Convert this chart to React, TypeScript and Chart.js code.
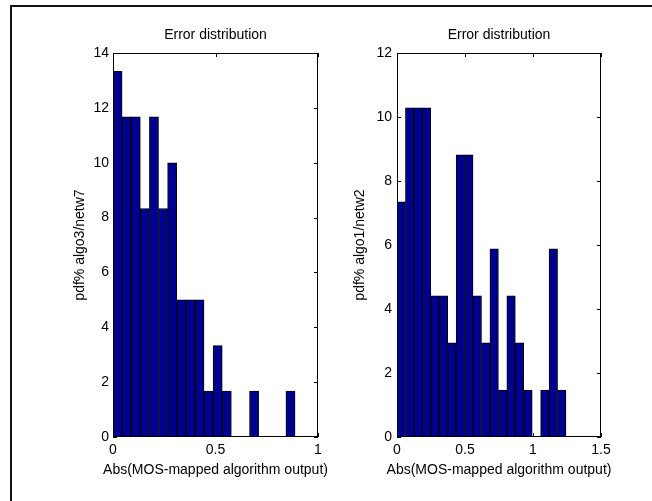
import React, { useEffect, useRef } from "react";
import { Chart, registerables } from "chart.js";

Chart.register(...registerables);

// ---------- data ----------
const plotTitle = "Error distribution";
const xAxisTitle = "Abs(MOS-mapped algorithm output)";

const leftYLabel = "pdf% algo3/netw7";
const leftBinCenters = [
  0.0222, 0.0666, 0.111, 0.1554, 0.1998, 0.2442, 0.2886, 0.333, 0.3774, 0.4218,
  0.4662, 0.5106, 0.555, 0.5994, 0.6438, 0.6882, 0.7326, 0.777, 0.8214, 0.8658,
];
const leftPdf = [
  13.33, 11.67, 11.67, 8.33, 11.67, 8.33, 10.0, 5.0, 5.0, 5.0,
  1.67, 3.33, 1.67, 0, 0, 1.67, 0, 0, 0, 1.67,
];
const leftXRange = [0, 1];
const leftYRange = [0, 14];

const rightYLabel = "pdf% algo1/netw2";
const rightBinCenters = [
  0.0311, 0.0932, 0.1553, 0.2175, 0.2796, 0.3417, 0.4039, 0.466, 0.5281, 0.5903,
  0.6524, 0.7145, 0.7767, 0.8388, 0.9009, 0.9631, 1.0252, 1.0873, 1.1495, 1.2116,
];
const rightPdf = [
  7.35, 10.29, 10.29, 10.29, 4.41, 4.41, 2.94, 8.82, 8.82, 4.41,
  2.94, 5.88, 1.47, 4.41, 2.94, 1.47, 0, 1.47, 5.88, 1.47,
];
const rightXRange = [0, 1.5];
const rightYRange = [0, 12];

const tickStepX = 0.5;
const tickStepY = 2;

// ---------- style ----------
const FONT_FAMILY = "'Liberation Sans', Arial, Helvetica, sans-serif";
const BAR_FILL = "#00008F";

const matlabAxes = {
  id: "matlabAxes",
  beforeDatasetsDraw(chart: any) {
    const { ctx, chartArea: a, scales } = chart;
    const x = scales.x;
    const y = scales.y;
    const tl = 4;
    ctx.save();
    ctx.strokeStyle = "#000";
    ctx.lineWidth = 1;
    ctx.beginPath();
    x.ticks.forEach((_t: any, i: number) => {
      const px = Math.round(x.getPixelForTick(i)) + 0.5;
      ctx.moveTo(px, a.bottom);
      ctx.lineTo(px, a.bottom - tl);
      ctx.moveTo(px, a.top);
      ctx.lineTo(px, a.top + tl);
    });
    y.ticks.forEach((_t: any, i: number) => {
      const py = Math.round(y.getPixelForTick(i)) + 0.5;
      ctx.moveTo(a.left, py);
      ctx.lineTo(a.left + tl, py);
      ctx.moveTo(a.right, py);
      ctx.lineTo(a.right - tl, py);
    });
    ctx.stroke();
    ctx.restore();
  },
  afterDatasetsDraw(chart: any, _args: any, opts: any) {
    const { ctx, chartArea: a } = chart;
    ctx.save();
    ctx.strokeStyle = "#000";
    ctx.lineWidth = 1;
    const l = Math.round(a.left) + 0.5;
    const t = Math.round(a.top) + 0.5;
    const r = Math.round(a.right) - 0.5;
    const b = Math.round(a.bottom) - 0.5;
    ctx.strokeRect(l, t, r - l, b - t);
    ctx.fillStyle = "#000";
    ctx.font = `14px ${FONT_FAMILY}`;
    ctx.textAlign = "center";
    ctx.textBaseline = "middle";
    const cx = (a.left + a.right) / 2;
    ctx.fillText(opts.title || "", cx, opts.titleY || 35);
    ctx.fillText(opts.xTitle || "", cx, opts.xTitleY || 470);
    ctx.restore();
  },
};

type PanelProps = {
  centers: number[];
  values: number[];
  xRange: number[];
  yRange: number[];
  yLabel: string;
  width: number;
  yAxisWidth: number;
  rightPad: number;
  yTitleOffset: number;
  yTickPad: number;
};

function HistPanel(p: PanelProps) {
  const ref = useRef<HTMLCanvasElement | null>(null);
  useEffect(() => {
    if (!ref.current) return;
    const font = { family: FONT_FAMILY, size: 14, weight: "normal" as const };
    const data = p.centers.map((c, i) => ({ x: c, y: p.values[i] }));
    const chart = new Chart(ref.current, {
      type: "bar",
      data: {
        datasets: [
          {
            data,
            backgroundColor: BAR_FILL,
            borderColor: "#000",
            borderWidth: 1,
            borderSkipped: "start",
            barPercentage: 1,
            categoryPercentage: 1,
          },
        ],
      },
      options: {
        responsive: false,
        animation: false,
        devicePixelRatio: 1,
        layout: { padding: { top: 53, left: 0, right: p.rightPad, bottom: 14 } },
        plugins: {
          legend: { display: false },
          tooltip: { enabled: false },
          title: { display: false },
          matlabAxes: { title: plotTitle, titleY: 35, xTitle: xAxisTitle, xTitleY: 470 },
        } as any,
        scales: {
          x: {
            type: "linear",
            min: p.xRange[0],
            max: p.xRange[1],
            offset: false,
            grid: { display: false, drawTicks: false, offset: false },
            border: { display: false },
            ticks: {
              stepSize: tickStepX,
              padding: 5,
              color: "#000",
              font,
              maxRotation: 0,
              autoSkip: false,
              callback: (v: any) => String(Number(v)),
            },
            afterFit: (s: any) => {
              s.height = 50;
            },
          },
          y: {
            type: "linear",
            min: p.yRange[0],
            max: p.yRange[1],
            grid: { display: false, drawTicks: false },
            border: { display: false },
            ticks: {
              stepSize: tickStepY,
              padding: p.yTickPad,
              color: "#000",
              font,
              callback: (v: any) => String(Number(v)),
            },
            title: {
              display: true,
              text: p.yLabel,
              color: "#000",
              font,
              padding: { top: p.yTitleOffset, bottom: 0 },
            },
            afterFit: (s: any) => {
              s.width = p.yAxisWidth;
            },
          },
        },
      },
      plugins: [matlabAxes],
    });
    return () => chart.destroy();
  }, []);
  return (
    <canvas
      ref={ref}
      width={p.width}
      height={501}
      style={{ width: p.width, height: 501, display: "block" }}
    />
  );
}

export default function App() {
  return (
    <div
      style={{
        position: "absolute",
        left: 0,
        top: 0,
        width: 652,
        height: 501,
        overflow: "hidden",
        background: "#fff",
      }}
    >
      <div
        style={{
          position: "absolute",
          left: 10,
          top: 5,
          width: 700,
          height: 600,
          borderLeft: "2px solid #111",
          borderTop: "2px solid #111",
        }}
      />
      <div style={{ position: "absolute", left: 0, top: 0 }}>
        <HistPanel
          centers={leftBinCenters}
          values={leftPdf}
          xRange={leftXRange}
          yRange={leftYRange}
          yLabel={leftYLabel}
          width={330}
          yAxisWidth={113}
          rightPad={12}
          yTitleOffset={71.6}
          yTickPad={4}
        />
      </div>
      <div style={{ position: "absolute", left: 330, top: 0 }}>
        <HistPanel
          centers={rightBinCenters}
          values={rightPdf}
          xRange={rightXRange}
          yRange={rightYRange}
          yLabel={rightYLabel}
          width={322}
          yAxisWidth={67}
          rightPad={51}
          yTitleOffset={21.6}
          yTickPad={5}
        />
      </div>
    </div>
  );
}
